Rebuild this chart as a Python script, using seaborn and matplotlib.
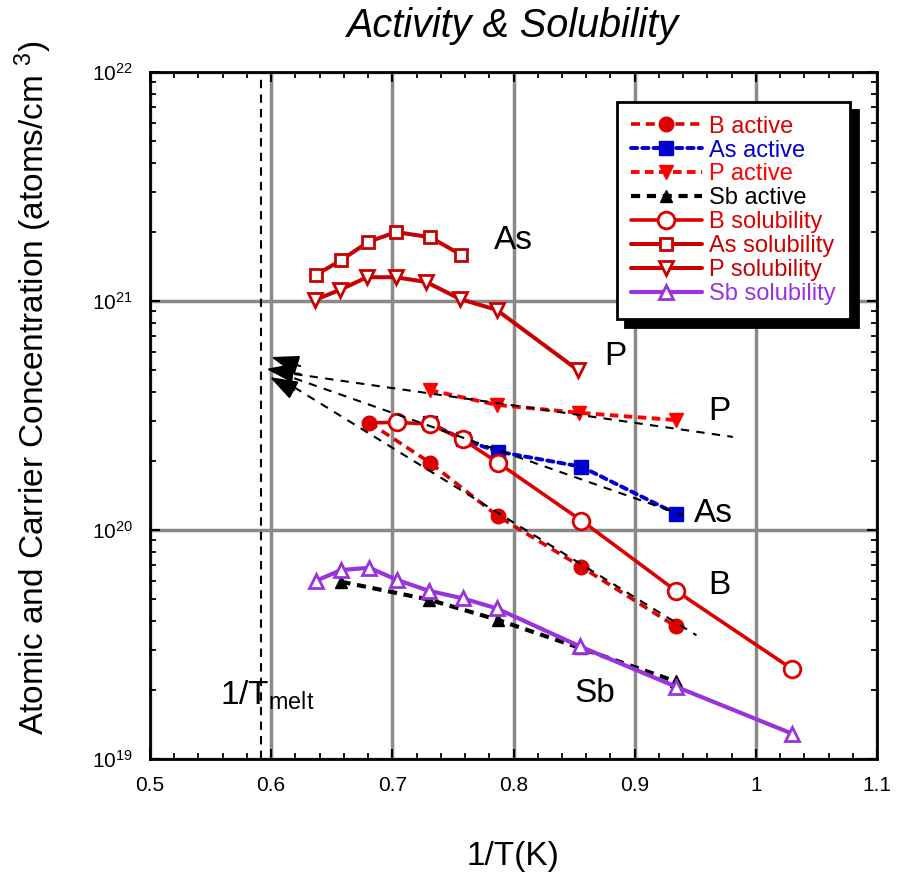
import numpy as np
import pandas as pd
import matplotlib
matplotlib.use("Agg")
import matplotlib.pyplot as plt
import seaborn as sns
from matplotlib.ticker import MultipleLocator, LogLocator, LogFormatterMathtext, NullFormatter, FuncFormatter

# ---------------- data ----------------
b_act_x = [0.681, 0.731, 0.787, 0.856, 0.934]
b_act_y = [2.94e20, 1.97e20, 1.15e20, 6.9e19, 3.79e19]
as_act_x = [0.731, 0.758, 0.787, 0.856, 0.934]
as_act_y = [2.93e20, 2.49e20, 2.20e20, 1.89e20, 1.18e20]
p_act_x = [0.731, 0.786, 0.854, 0.934]
p_act_y = [4.08e20, 3.52e20, 3.25e20, 3.02e20]
sb_act_x = [0.658, 0.730, 0.787, 0.856, 0.934]
sb_act_y = [5.94e19, 4.97e19, 4.05e19, 3.04e19, 2.18e19]

b_sol_x = [0.681, 0.704, 0.731, 0.758, 0.787, 0.856, 0.934, 1.030]
b_sol_y = [2.94e20, 2.95e20, 2.90e20, 2.49e20, 1.97e20, 1.10e20, 5.43e19, 2.47e19]
as_sol_x = [0.637, 0.658, 0.680, 0.703, 0.731, 0.757]
as_sol_y = [1.30e21, 1.51e21, 1.81e21, 2.00e21, 1.90e21, 1.59e21]
p_sol_x = [0.636, 0.657, 0.679, 0.703, 0.728, 0.756, 0.786, 0.853]
p_sol_y = [1.01e21, 1.12e21, 1.27e21, 1.27e21, 1.21e21, 1.02e21, 9.15e20, 5.0e20]
sb_sol_x = [0.637, 0.658, 0.681, 0.704, 0.730, 0.758, 0.786, 0.855, 0.934, 1.030]
sb_sol_y = [6.0e19, 6.69e19, 6.84e19, 6.05e19, 5.43e19, 5.03e19, 4.55e19, 3.10e19, 2.07e19, 1.29e19]

# fitted (black dashed) trend lines: start / end
fit_p_x = [0.619, 0.981]
fit_p_y = [4.8e20, 2.55e20]
fit_as_x = [0.619, 0.940]
fit_as_y = [4.6e20, 1.16e20]
fit_b_x = [0.619, 0.951]
fit_b_y = [4.2e20, 3.47e19]

# arrow heads toward the melting point
arrow_tail_x = [0.624, 0.624, 0.619]
arrow_tail_y = [5.2e20, 4.8e20, 4.08e20]
arrow_tip_x = [0.600, 0.596, 0.599]
arrow_tip_y = [5.69e20, 5.05e20, 4.65e20]

t_melt_x = 0.592

label_text = ["As", "P", "P", "As", "B", "Sb"]
label_x = [0.800, 0.884, 0.970, 0.965, 0.970, 0.867]
label_y = [1.83e21, 5.7e20, 3.29e20, 1.18e20, 5.75e19, 1.94e19]

x_ticks = [0.5, 0.6, 0.7, 0.8, 0.9, 1.0, 1.1]

# ---------------- style ----------------
sns.set_theme(style="ticks")
plt.rcParams["font.family"] = ["Liberation Sans", "DejaVu Sans"]
plt.rcParams["mathtext.fontset"] = "custom"
plt.rcParams["mathtext.rm"] = "Liberation Sans"
plt.rcParams["mathtext.it"] = "Liberation Sans:italic"
plt.rcParams["mathtext.bf"] = "Liberation Sans:bold"
for k in ["text.color", "axes.labelcolor", "xtick.color", "ytick.color", "axes.edgecolor"]:
    plt.rcParams[k] = "black"

RED = "#dd0000"
DRED = "#c80000"
BRED = "#ff0000"
BLUE = "#0000d0"
PURPLE = "#9933dd"

fig = plt.figure(figsize=(9.02, 8.76), dpi=100)
ax = fig.add_axes([150 / 902, 1 - 759 / 876, 727 / 902, 687 / 876])

common = dict(ax=ax, sort=False, estimator=None, errorbar=None)

# active (dashed)
sns.lineplot(x=b_act_x, y=b_act_y, color=RED, marker="o", markersize=10.5,
             markeredgecolor=RED, markerfacecolor=RED, markeredgewidth=1,
             linestyle=(0, (2.5, 1.6)), linewidth=2.6, label="B active", zorder=6, **common)
sns.lineplot(x=as_act_x, y=as_act_y, color=BLUE, marker="s", markersize=10.5,
             markeredgecolor=BLUE, markerfacecolor=BLUE, markeredgewidth=1,
             linestyle=(0, (1.6, 1.3)), linewidth=2.8, label="As active", zorder=3,
             dash_capstyle="round", **common)
sns.lineplot(x=p_act_x, y=p_act_y, color=BRED, marker="v", markersize=10,
             markeredgecolor=BRED, markerfacecolor=BRED, markeredgewidth=1,
             linestyle=(0, (2.2, 1.4)), linewidth=2.8, label="P active", zorder=5, **common)
sns.lineplot(x=sb_act_x, y=sb_act_y, color="black", marker="^", markersize=9,
             markeredgecolor="black", markerfacecolor="black", markeredgewidth=1,
             linestyle=(0, (2.2, 1.6)), linewidth=3.0, label="Sb active", zorder=3, **common)

# solubility (solid, open markers)
sns.lineplot(x=b_sol_x, y=b_sol_y, color=RED, marker="o", markersize=12,
             markeredgecolor=RED, markerfacecolor="white", markeredgewidth=2,
             markevery=list(range(1, len(b_sol_x))),
             linestyle="-", linewidth=2.6, label="B solubility", zorder=4, **common)
sns.lineplot(x=as_sol_x, y=as_sol_y, color=DRED, marker="s", markersize=9,
             markeredgecolor=DRED, markerfacecolor="white", markeredgewidth=2,
             linestyle="-", linewidth=2.9, label="As solubility", zorder=4, **common)
sns.lineplot(x=p_sol_x, y=p_sol_y, color=DRED, marker="v", markersize=10.5,
             markeredgecolor=DRED, markerfacecolor="white", markeredgewidth=2,
             linestyle="-", linewidth=2.9, label="P solubility", zorder=4, **common)
sns.lineplot(x=sb_sol_x, y=sb_sol_y, color=PURPLE, marker="^", markersize=9.5,
             markeredgecolor=PURPLE, markerfacecolor="white", markeredgewidth=2,
             linestyle="-", linewidth=3.0, label="Sb solubility", zorder=4, **common)

# fit lines
for fx, fy in [(fit_p_x, fit_p_y), (fit_as_x, fit_as_y), (fit_b_x, fit_b_y)]:
    ax.plot(fx, fy, color="black", linestyle=(0, (4, 3.5)), linewidth=1.5, zorder=7)

for tx, ty, hx, hy in zip(arrow_tail_x, arrow_tail_y, arrow_tip_x, arrow_tip_y):
    ax.annotate("", xy=(hx, hy), xytext=(tx, ty),
                arrowprops=dict(arrowstyle="-|>,head_length=0.85,head_width=0.3",
                                mutation_scale=20, color="black", lw=1.4,
                                shrinkA=0, shrinkB=0), zorder=7)

# melting point line
ax.axvline(t_melt_x, color="black", linestyle=(0, (4, 3)), linewidth=1.5, zorder=2)

# text labels
for t, lx, ly in zip(label_text, label_x, label_y):
    ax.text(lx, ly, t, fontsize=24, ha="center", va="center", zorder=8)
ax.text(0.558, 1.72e19, r"1/T$_{\rm melt}$", fontsize=24, ha="left", va="baseline", zorder=8)

# axes
ax.set_yscale("log")
ax.set_xlim(0.5, 1.1)
ax.set_ylim(1e19, 1e22)
ax.xaxis.set_major_locator(MultipleLocator(0.1))
ax.xaxis.set_minor_locator(MultipleLocator(0.02))
ax.xaxis.set_major_formatter(FuncFormatter(lambda v, p: "%g" % round(v, 3)))
ax.yaxis.set_major_locator(LogLocator(base=10, numticks=10))
ax.yaxis.set_minor_locator(LogLocator(base=10, subs=np.arange(2, 10), numticks=20))
ax.yaxis.set_major_formatter(LogFormatterMathtext())
ax.yaxis.set_minor_formatter(NullFormatter())

ax.grid(True, which="major", color="#8a8a8a", linewidth=2.5, zorder=0)
ax.set_axisbelow(True)
for s in ax.spines.values():
    s.set_linewidth(2)
    s.set_color("black")
    s.set_zorder(9)

ax.tick_params(which="both", direction="in", top=True, right=True, color="black")
ax.tick_params(which="major", length=7, width=1.5)
ax.tick_params(which="minor", length=4.5, width=1.3)
ax.tick_params(axis="x", which="major", labelsize=15, pad=12)
ax.tick_params(axis="y", which="major", labelsize=15, pad=12)

ax.set_xlabel("")
ax.set_ylabel("")

fig.text(0.569, 0.970, "Activity & Solubility", fontsize=28.5, style="italic",
         ha="center", va="center")
fig.text(0.569, 0.022, "1/T(K)", fontsize=24, ha="center", va="center")
fig.text(0.0366, 0.5577, r"Atomic and Carrier Concentration (atoms/cm $^{3}$)",
         fontsize=24, rotation=90, ha="center", va="center")

# legend
leg_colors = [RED, BLUE, BRED, "black", RED, DRED, DRED, PURPLE]
leg = ax.legend(loc="upper left", bbox_to_anchor=(0.642, 0.957), borderaxespad=0,
                fontsize=17, handlelength=3.0, handletextpad=0.3, labelspacing=0.08,
                borderpad=0.6, numpoints=1, fancybox=False, framealpha=1,
                edgecolor="black",
                shadow={"ox": 6, "oy": -6, "color": "black", "alpha": 1})
leg.get_frame().set_linewidth(2)
leg.set_zorder(10)
for txt, c in zip(leg.get_texts(), leg_colors):
    txt.set_color(c)

fig.savefig("out.png", dpi=100)
